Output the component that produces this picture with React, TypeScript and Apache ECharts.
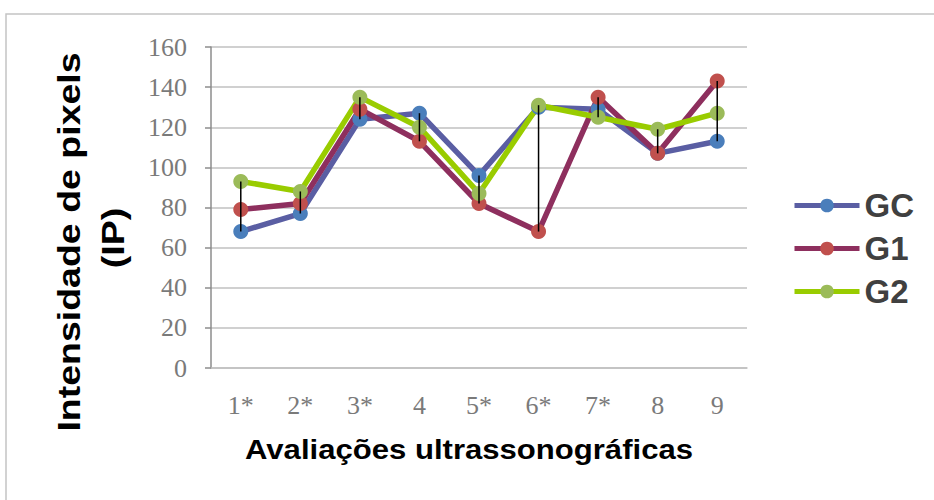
import React, { useEffect, useRef } from "react";
import * as echarts from "echarts";

const categories = ["1*", "2*", "3*", "4", "5*", "6*", "7*", "8", "9"];
const gcValues = [68, 77, 124, 127, 96, 130, 129, 107, 113];
const g1Values = [79, 82, 129, 113, 82, 68, 135, 107, 143];
const g2Values = [93, 88, 135, 120, 87, 131, 125, 119, 127];
const seriesNames = ["GC", "G1", "G2"];

export default function App() {
  const ref = useRef<HTMLDivElement>(null);
  useEffect(() => {
    document.body.style.margin = "0";
    const chart = echarts.init(ref.current!, null, { renderer: "svg" });
    const hiLo = categories.map((_, i) => {
      const vals = [gcValues[i], g1Values[i], g2Values[i]];
      return [i, Math.min(...vals), Math.max(...vals)];
    });
    const mk = (name: string, data: number[], line: string, marker: string) => ({
      name,
      type: "line",
      data,
      symbol: "circle",
      symbolSize: 15,
      lineStyle: { color: line, width: 5.5 },
      itemStyle: { color: marker },
      z: 3,
    });
    chart.setOption({
      animation: false,
      backgroundColor: "#ffffff",
      grid: { left: 211, top: 47, right: 187, bottom: 132 },
      legend: {
        data: seriesNames,
        orient: "vertical",
        left: 792,
        top: 189,
        padding: 0,
        itemWidth: 65,
        itemHeight: 17,
        itemGap: 10,
        lineStyle: { width: 5 },
        textStyle: {
          fontSize: 33,
          lineHeight: 32,
          fontWeight: "bold",
          color: "#404040",
          fontFamily: "Liberation Sans",
        },
      },
      xAxis: {
        type: "category",
        data: categories,
        boundaryGap: true,
        axisLine: { lineStyle: { color: "#c0c0c0", width: 1.5 } },
        axisTick: { show: false },
        axisLabel: {
          fontFamily: "Liberation Serif",
          fontSize: 26,
          color: "#7a7a7a",
          margin: 24,
        },
      },
      yAxis: {
        type: "value",
        min: 0,
        max: 160,
        interval: 20,
        axisLine: { show: true, lineStyle: { color: "#8c8c8c", width: 1.5 } },
        axisTick: { show: true, length: 6, lineStyle: { color: "#8c8c8c", width: 1.5 } },
        splitLine: { lineStyle: { color: "#c0c0c0", width: 1.5 } },
        axisLabel: {
          fontFamily: "Liberation Serif",
          fontSize: 26,
          color: "#7a7a7a",
          margin: 24,
        },
      },
      series: [
        mk("GC", gcValues, "#5a5ea3", "#4a7ebb"),
        mk("G1", g1Values, "#8e2f5e", "#c0504d"),
        mk("G2", g2Values, "#99cc00", "#9bbb59"),
        {
          type: "custom",
          name: "hilo",
          data: hiLo,
          encode: { x: 0, y: [1, 2] },
          z: 10,
          renderItem: (params: any, api: any) => {
            const x = api.value(0);
            const lo = api.coord([x, api.value(1)]);
            const hi = api.coord([x, api.value(2)]);
            return {
              type: "line",
              shape: { x1: lo[0], y1: lo[1], x2: hi[0], y2: hi[1] },
              style: { stroke: "#000000", lineWidth: 1.5 },
            };
          },
        },
      ],
      graphic: [
        {
          type: "rect",
          shape: { x: 6, y: 14, width: 1000, height: 600 },
          style: { fill: "none", stroke: "#c4c4c4", lineWidth: 1.5 },
          silent: true,
        },
        {
          type: "text",
          x: 69,
          y: 242,
          rotation: Math.PI / 2,
          scaleX: 1.25,
          scaleY: 1.05,
          style: {
            text: "Intensidade de pixels",
            font: "bold 30px 'Liberation Sans'",
            fill: "#000000",
            textAlign: "center",
            textVerticalAlign: "middle",
          },
        },
        {
          type: "text",
          x: 113,
          y: 238,
          rotation: Math.PI / 2,
          scaleX: 1.25,
          scaleY: 1.05,
          style: {
            text: "(IP)",
            font: "bold 30px 'Liberation Sans'",
            fill: "#000000",
            textAlign: "center",
            textVerticalAlign: "middle",
          },
        },
        {
          type: "text",
          x: 469,
          y: 449,
          scaleX: 1.11,
          style: {
            text: "Avaliações ultrassonográficas",
            font: "bold 28px 'Liberation Sans'",
            fill: "#000000",
            textAlign: "center",
            textVerticalAlign: "middle",
          },
        },
      ],
    });
    return () => chart.dispose();
  }, []);
  return <div ref={ref} style={{ width: 934, height: 500 }} />;
}
